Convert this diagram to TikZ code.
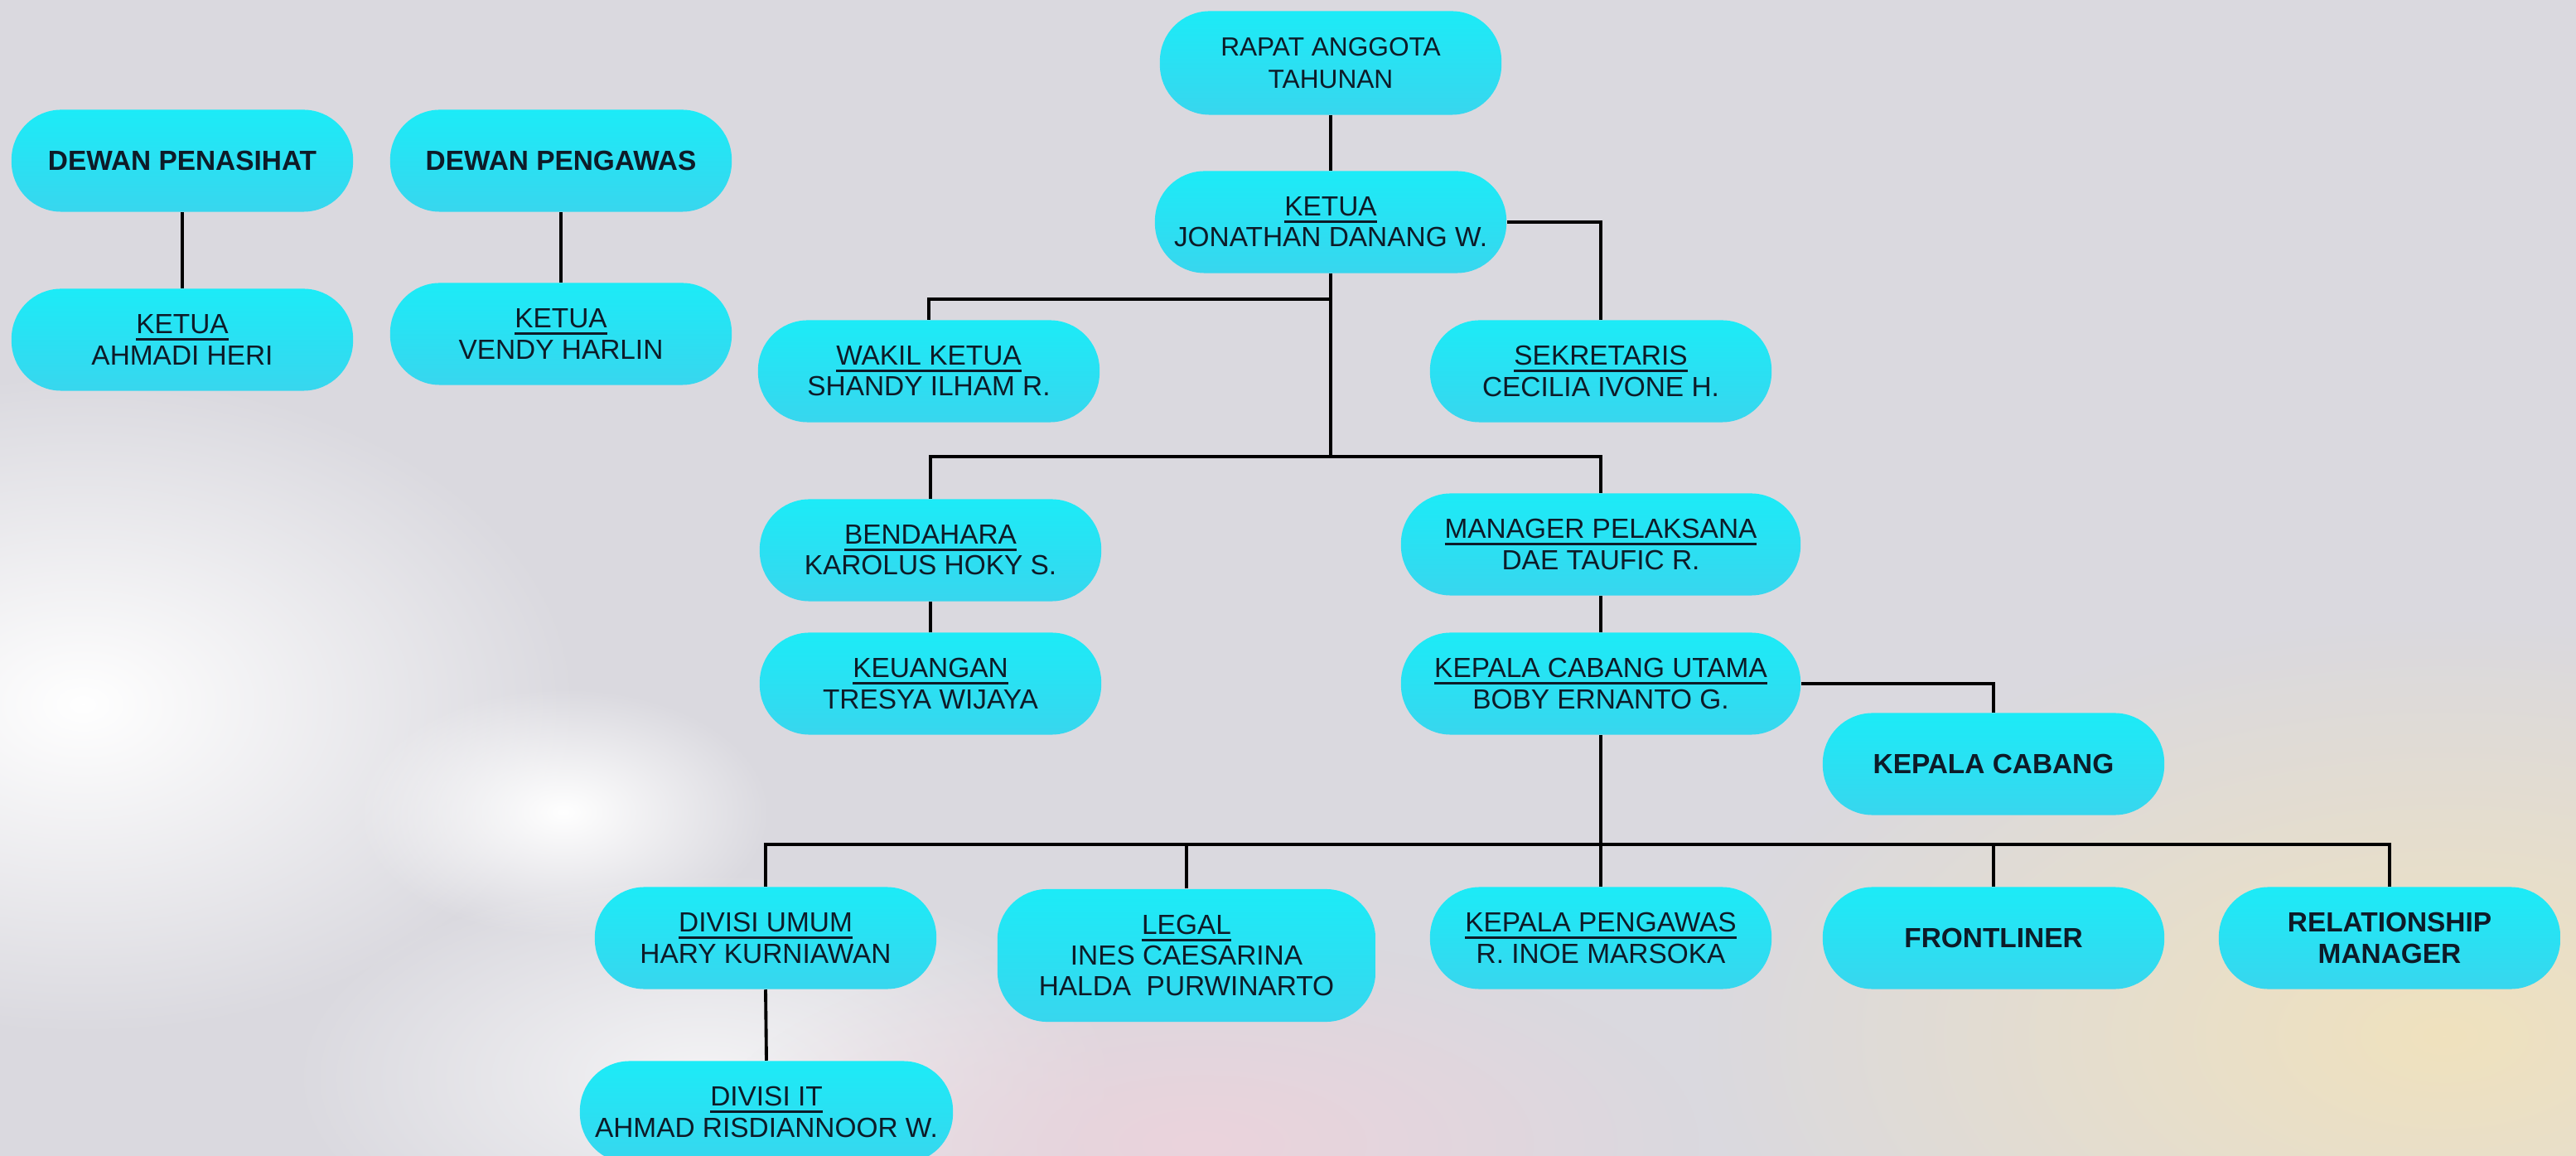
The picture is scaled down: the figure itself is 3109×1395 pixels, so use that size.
\documentclass[tikz,border=0pt]{standalone}
\usepackage{fontspec}
\setmainfont{Liberation Sans}
\usetikzlibrary{positioning,fadings}

\definecolor{latar}{HTML}{DAD9DF}
\definecolor{biruA}{HTML}{1CEBF7}
\definecolor{biruB}{HTML}{38D6EE}
\definecolor{tinta}{HTML}{0D1B28}
\definecolor{krem}{HTML}{F0E2BE}
\definecolor{merahmuda}{HTML}{EBD3DC}

\tikzfading[name=kabur, inner color=transparent!0, outer color=transparent!100]

% judul jabatan bergaris bawah
\newcommand{\jbt}[1]{\setbox0\hbox{#1}\rlap{\rule[-2.4pt]{\wd0}{0.9pt}}\box0}

\begin{document}
\begin{tikzpicture}[x=0.01cm,y=-0.01cm]
\tikzstyle{kotak} = [rounded corners=0.6cm, top color=biruA, bottom color=biruB, text=tinta, align=center, minimum width=4.12cm, minimum height=1.23cm, inner sep=0pt, font=\fontsize{9.5}{10.6}\selectfont]
\tikzstyle{tebal} = [kotak, font=\fontsize{9.5}{10.6}\selectfont\bfseries]
\tikzstyle{garis} = [line width=1.1pt, black]

\useasboundingbox (0,0) rectangle (3109,1395);
% latar belakang
\begin{scope}
\clip (0,0) rectangle (3109,1395);
\fill[latar] (0,0) rectangle (3109,1395);
\fill[white, path fading=kabur] (100,850) ellipse [x radius=6cm, y radius=4cm];
\fill[white, path fading=kabur] (680,980) ellipse [x radius=2.5cm, y radius=1.5cm];
\fill[white, path fading=kabur, opacity=0.7] (850,1300) ellipse [x radius=5cm, y radius=2.5cm];
\fill[merahmuda, path fading=kabur] (1450,1380) ellipse [x radius=6cm, y radius=2.5cm];
\fill[krem, path fading=kabur] (2950,1250) ellipse [x radius=9cm, y radius=5cm];
\end{scope}

\node[kotak, minimum height=1.25cm, font=\fontsize{9}{11}\selectfont] (rapat) at (1606,76) {RAPAT ANGGOTA\\TAHUNAN};
\node[tebal] (penasihat) at (220,194) {DEWAN PENASIHAT};
\node[tebal] (pengawas) at (677,194) {DEWAN PENGAWAS};
\node[kotak] (ketuaph) at (220,410) {\jbt{KETUA}\\AHMADI HERI};
\node[kotak] (ketuapw) at (677,403) {\jbt{KETUA}\\VENDY HARLIN};
\node[kotak, minimum width=4.24cm] (ketua) at (1606,268) {\jbt{KETUA}\\JONATHAN DANANG W.};
\node[kotak] (wakil) at (1121,448) {\jbt{WAKIL KETUA}\\SHANDY ILHAM R.};
\node[kotak] (sekretaris) at (1932,448) {\jbt{SEKRETARIS}\\CECILIA IVONE H.};
\node[kotak] (bendahara) at (1123,664) {\jbt{BENDAHARA}\\KAROLUS HOKY S.};
\node[kotak, minimum width=4.82cm] (manager) at (1932,657) {\jbt{MANAGER PELAKSANA}\\DAE TAUFIC R.};
\node[kotak] (keuangan) at (1123,825) {\jbt{KEUANGAN}\\TRESYA WIJAYA};
\node[kotak, minimum width=4.82cm] (kcu) at (1932,825) {\jbt{KEPALA CABANG UTAMA}\\BOBY ERNANTO G.};
\node[tebal] (cabang) at (2406,922) {KEPALA CABANG};
\node[kotak] (umum) at (924,1132) {\jbt{DIVISI UMUM}\\HARY KURNIAWAN};
\node[kotak, minimum width=4.56cm, minimum height=1.6cm] (legal) at (1432,1153) {\jbt{LEGAL}\\INES CAESARINA\\HALDA\ \ PURWINARTO};
\node[kotak] (kpengawas) at (1932,1132) {\jbt{KEPALA PENGAWAS}\\R. INOE MARSOKA};
\node[tebal] (frontliner) at (2406,1132) {FRONTLINER};
\node[tebal] (relasi) at (2884,1132) {RELATIONSHIP\\MANAGER};
\node[kotak, minimum width=4.5cm] (it) at (925,1342) {\jbt{DIVISI IT}\\AHMAD RISDIANNOOR W.};

% titik cabang
\coordinate (j1) at (1606,361);
\coordinate (j2) at (1606,551);
\coordinate (j3) at (1932,1019);

\draw[garis] (penasihat.south) -- (ketuaph.north);
\draw[garis] (pengawas.south) -- (ketuapw.north);
\draw[garis] (rapat.south) -- (ketua.north);
\draw[garis] (ketua.east) -| (sekretaris.north);
\draw[garis] (ketua.south) -- (j2);
\draw[garis] (wakil.north) |- (j1);
\draw[garis] (bendahara.north) |- (j2) -| (manager.north);
\draw[garis] (bendahara.south) -- (keuangan.north);
\draw[garis] (manager.south) -- (kcu.north);
\draw[garis] (kcu.east) -| (cabang.north);
\draw[garis] (kcu.south) -- (kpengawas.north);
\draw[garis] (umum.north) |- (j3) -| (relasi.north);
\draw[garis] (legal.north) -- (legal.north |- j3);
\draw[garis] (frontliner.north) -- (frontliner.north |- j3);
\draw[garis] (umum.south) -- (it.north);
\end{tikzpicture}
\end{document}
